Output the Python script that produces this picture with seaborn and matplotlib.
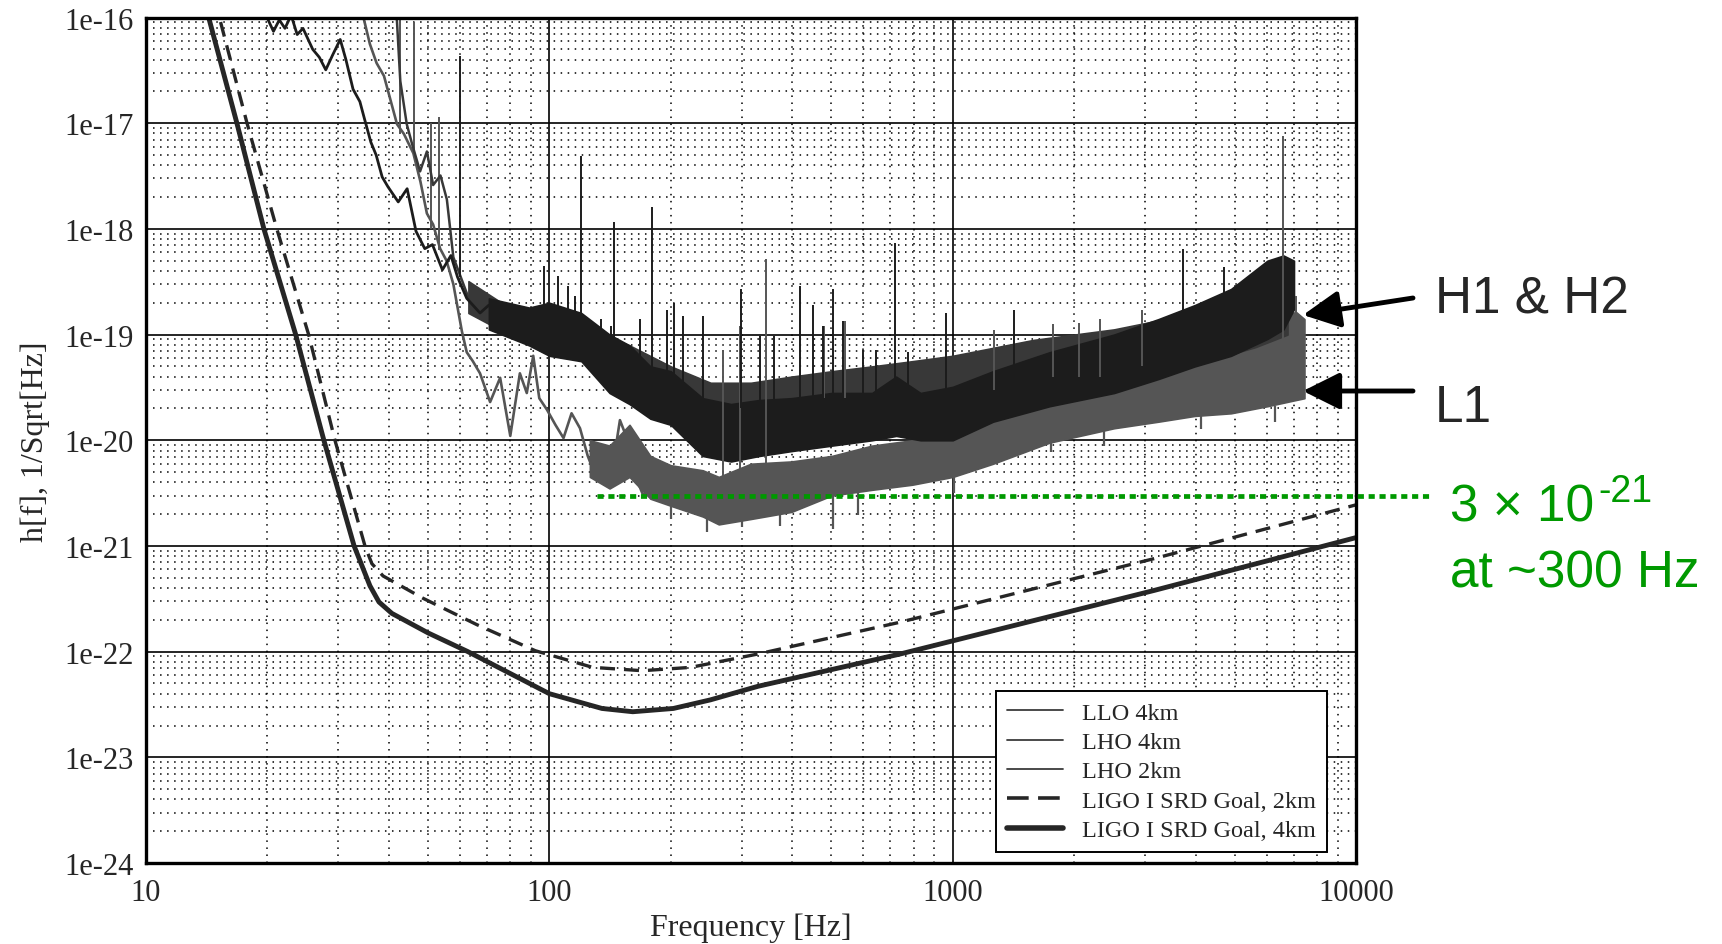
import numpy as np
import matplotlib
matplotlib.use("Agg")
import matplotlib.pyplot as plt
import seaborn as sns
from matplotlib.lines import Line2D
from matplotlib.ticker import FixedLocator, NullFormatter

# --- values (Hz, strain / sqrt(Hz)) ---

# LIGO I SRD goal curves
srd4_f = [13.5, 14.3, 16.8, 19.6, 23.5, 27.6, 32.8, 35.9, 37.8, 40.7, 50.1, 62.8,
          79.4, 100, 135, 161, 203, 251, 329, 741, 3162, 10000]
srd4_h = [2.2e-16, 1.0e-16, 1.0e-17, 1.0e-18, 1.0e-19, 1.0e-20, 1.0e-21, 4.2e-22,
          2.95e-22, 2.3e-22, 1.5e-22, 1.0e-22, 6.3e-23, 4.0e-23, 2.9e-23, 2.7e-23,
          2.9e-23, 3.5e-23, 4.7e-23, 9.5e-23, 3.8e-22, 1.2e-21]
srd2_f = [14.3, 15.2, 17.8, 21.1, 25.3, 29.4, 34.9, 36.3, 38.7, 48.6, 66.1, 92.3,
          128, 170, 224, 329, 741, 3162, 10000]
srd2_h = [2.2e-16, 1.0e-16, 1.0e-17, 1.0e-18, 1.0e-19, 1.0e-20, 1.0e-21, 6.8e-22,
          5.2e-22, 3.2e-22, 1.8e-22, 1.02e-22, 7.1e-23, 6.6e-23, 7.1e-23, 9.5e-23,
          1.9e-22, 7.6e-22, 2.45e-21]

# LHO 4km: low frequency trace, then the noise band (lower / upper edge)
lho4_f = [19.5, 20.0, 20.7, 21.4, 22.1, 22.9, 23.7, 24.5, 25.9, 26.9, 27.9, 29.0,
          30.3, 31.3, 32.6, 33.9, 34.8, 36.1, 37.2, 38.5, 39.8, 42.2, 44.4, 46.7,
          49.1, 51.3, 54.3, 57.0, 59.2, 62.4, 67.3, 70.8, 74.1, 77.6, 81.3]
lho4_h = [1.26e-16, 9.8e-17, 7.4e-17, 9.5e-17, 7.9e-17, 1.05e-16, 6.9e-17, 7.9e-17,
          5.0e-17, 4.2e-17, 3.2e-17, 4.4e-17, 6.2e-17, 4.0e-17, 2.1e-17, 1.6e-17,
          1.1e-17, 6.6e-18, 5.0e-18, 3.1e-18, 2.5e-18, 1.8e-18, 2.4e-18, 9.5e-19,
          6.5e-19, 7.1e-19, 4.1e-19, 5.6e-19, 3.5e-19, 2.2e-19, 1.6e-19, 1.9e-19,
          1.6e-19, 1.2e-19, 1.4e-19]
lho4_band_f = [70.8, 89.1, 100, 120, 141, 158, 178, 200, 240, 282, 331, 398, 501,
               631, 724, 832, 1000, 1259, 1738, 2512, 3236, 3981, 4898, 6026, 6607, 7015]
lho4_band_lo = [1.12e-19, 7.9e-20, 6.3e-20, 5.6e-20, 2.8e-20, 2.2e-20, 1.6e-20,
                1.4e-20, 7.1e-21, 6.3e-21, 7.1e-21, 7.9e-21, 8.9e-21, 1.0e-20,
                1.1e-20, 1.0e-20, 1.0e-20, 1.5e-20, 2.1e-20, 2.8e-20, 3.8e-20,
                5.0e-20, 6.3e-20, 9.1e-20, 1.12e-19, 1.74e-19]
lho4_band_hi = [2.2e-19, 1.8e-19, 2.0e-19, 1.6e-19, 1.0e-19, 7.9e-20, 5.0e-20,
                4.5e-20, 2.5e-20, 2.2e-20, 2.4e-20, 2.5e-20, 2.8e-20, 2.8e-20,
                4.0e-20, 2.8e-20, 3.2e-20, 4.5e-20, 6.8e-20, 1.0e-19, 1.4e-19,
                1.9e-19, 2.7e-19, 5.0e-19, 5.6e-19, 5.0e-19]

# LHO 2km
lho2_f = [41.7, 42.7, 44.3, 45.7, 47.8, 49.7, 51.5, 53.7, 55.7, 57.8, 60.3, 63.1]
lho2_h = [1.26e-16, 2.5e-17, 9.8e-18, 6.3e-18, 3.5e-18, 5.4e-18, 2.6e-18, 3.2e-18,
          1.9e-18, 5.4e-19, 3.5e-19, 2.2e-19]
lho2_band_f = [63, 79.4, 100, 126, 158, 200, 251, 316, 398, 501, 631, 794, 1000,
               1585, 2512, 3981, 5623, 6761]
lho2_band_lo = [1.6e-19, 1.0e-19, 7.9e-20, 5.6e-20, 3.5e-20, 2.0e-20, 1.6e-20,
                1.4e-20, 1.4e-20, 1.6e-20, 1.8e-20, 2.0e-20, 2.2e-20, 3.0e-20,
                3.8e-20, 5.2e-20, 7.6e-20, 1.0e-19]
lho2_band_hi = [3.2e-19, 1.8e-19, 1.6e-19, 1.12e-19, 7.9e-20, 5.0e-20, 3.5e-20,
                3.5e-20, 4.0e-20, 4.5e-20, 5.0e-20, 5.6e-20, 6.3e-20, 8.9e-20,
                1.12e-19, 1.6e-19, 2.5e-19, 3.5e-19]

# LLO 4km
llo_f = [33.5, 34.6, 35.9, 37.3, 38.9, 40.3, 41.9, 43.6, 46.0, 47.9, 49.7, 51.5,
         53.6, 55.6, 57.8, 60.7, 62.4, 64.6, 67.3, 71.3, 75.5, 80.0, 84.5, 87.9,
         91.2, 94.4, 98.6, 103.5, 108.4, 113.5, 119.1, 124.5, 128.5, 134.9, 141.3,
         149.6, 154.9, 158.5, 171.0, 184.5]
llo_h = [1.26e-16, 1.0e-16, 5.6e-17, 3.7e-17, 2.8e-17, 1.7e-17, 9.8e-18, 7.9e-18,
         5.2e-18, 2.8e-18, 1.4e-18, 1.1e-18, 6.5e-19, 5.0e-19, 3.0e-19, 1.07e-19,
         6.8e-20, 5.6e-20, 4.3e-20, 2.3e-20, 3.9e-20, 1.1e-20, 4.3e-20, 2.8e-20,
         6.3e-20, 2.5e-20, 1.95e-20, 1.4e-20, 1.05e-20, 1.8e-20, 1.3e-20, 7.1e-21,
         5.2e-21, 6.3e-21, 3.8e-21, 1.55e-20, 1.1e-20, 6.0e-21, 3.0e-21, 4.5e-21]
llo_band_f = [126, 141, 158, 178, 200, 240, 263, 316, 398, 501, 631, 794, 1000,
              1259, 1738, 2512, 3236, 3981, 4898, 6026, 7079, 7447]
llo_band_lo = [4.5e-21, 3.5e-21, 4.5e-21, 2.8e-21, 2.4e-21, 1.9e-21, 1.6e-21,
               1.8e-21, 2.1e-21, 3.0e-21, 3.4e-21, 3.8e-21, 4.5e-21, 6.0e-21,
               9.5e-21, 1.3e-20, 1.5e-20, 1.7e-20, 1.8e-20, 2.1e-20, 2.4e-20, 2.5e-20]
llo_band_hi = [1.0e-20, 8.9e-21, 1.4e-20, 7.1e-21, 5.8e-21, 5.2e-21, 4.5e-21,
               6.0e-21, 6.3e-21, 7.1e-21, 8.9e-21, 1.0e-20, 1.2e-20, 1.6e-20,
               3.2e-20, 4.5e-20, 5.2e-20, 7.1e-20, 8.9e-20, 1.1e-19, 1.65e-19, 1.4e-19]

# line spikes: frequency, foot, tip
dark_spike_f = [60.0, 120, 144.5, 179.5, 134, 168, 204, 240, 299, 418, 451, 506,
                535, 721, 964, 1422, 3724, 4710, 97, 105, 111, 116, 127, 142, 196,
                215, 333, 360, 477, 600, 647, 774]
dark_spike_lo = [3.5e-19, 1.0e-19, 5.0e-20, 4.0e-20, 6.3e-20, 4.0e-20, 2.5e-20,
                 2.0e-20, 2.0e-20, 2.0e-20, 2.0e-20, 2.0e-20, 2.0e-20, 2.5e-20,
                 2.5e-20, 3.0e-20, 6.0e-20, 6.0e-20, 1.2e-19, 1.1e-19, 1.0e-19,
                 1.0e-19, 7.0e-20, 5.0e-20, 3.0e-20, 2.5e-20, 1.6e-20, 1.6e-20,
                 1.6e-20, 1.8e-20, 1.8e-20, 1.8e-20]
dark_spike_hi = [4.3e-17, 4.9e-18, 1.15e-18, 1.6e-18, 1.4e-19, 1.4e-19, 2.0e-19,
                 1.5e-19, 2.7e-19, 2.9e-19, 1.9e-19, 2.7e-19, 1.35e-19, 7.4e-19,
                 1.6e-19, 1.7e-19, 6.5e-19, 4.4e-19, 4.5e-19, 3.6e-19, 2.9e-19,
                 2.3e-19, 1.0e-19, 1.2e-19, 1.7e-19, 1.5e-19, 9.8e-20, 9.8e-20,
                 1.2e-19, 7.1e-20, 7.2e-20, 6.8e-20]
gray_spike_f = [42.7, 46.2, 51.0, 53.3, 270, 297, 343.6, 480, 541, 1265, 1770, 2056,
                2323, 2944, 6607, 7080]
gray_spike_lo = [7.9e-18, 5.0e-18, 1.0e-18, 6.3e-19, 4.0e-21, 5.0e-21, 5.0e-21,
                 2.5e-20, 2.5e-20, 3.0e-20, 4.0e-20, 4.0e-20, 4.0e-20, 5.0e-20,
                 5.0e-20, 1.0e-19]
gray_spike_hi = [1.26e-16, 9.1e-17, 1.0e-17, 1.15e-17, 7.2e-20, 1.2e-19, 5.2e-19,
                 1.2e-19, 1.35e-19, 1.1e-19, 1.26e-19, 1.3e-19, 1.4e-19, 1.7e-19,
                 7.6e-18, 2.3e-19]
# dips below the LLO band edge
llo_dip_f = [200, 246, 300, 373, 506, 582, 1009, 1754, 2377, 4130, 6310]
llo_dip_top = [2.6e-21, 2.0e-21, 2.0e-21, 2.1e-21, 3.0e-21, 3.3e-21, 4.6e-21,
               9.8e-21, 1.3e-20, 1.7e-20, 2.1e-20]
llo_dip_bot = [1.8e-21, 1.35e-21, 1.5e-21, 1.55e-21, 1.45e-21, 1.95e-21, 3.2e-21,
               7.8e-21, 8.9e-21, 1.29e-20, 1.48e-20]

goal_level = 3e-21
goal_f = [131, 15500]

x_ticks = [10, 100, 1000, 10000]
x_ticklabels = ["10", "100", "1000", "10000"]
y_ticks = [1e-24, 1e-23, 1e-22, 1e-21, 1e-20, 1e-19, 1e-18, 1e-17, 1e-16]
y_ticklabels = ["1e-24", "1e-23", "1e-22", "1e-21", "1e-20", "1e-19", "1e-18",
                "1e-17", "1e-16"]

legend_labels = ["LLO 4km", "LHO 4km", "LHO 2km",
                 "LIGO I SRD Goal, 2km", "LIGO I SRD Goal, 4km"]

C_LLO = "#555555"
C_LHO2 = "#383838"
C_LHO4 = "#1c1c1c"
C_SRD = "#262626"
GREEN = "#009900"

sns.set_style("white")
plt.rcParams["font.family"] = ["Liberation Serif", "DejaVu Serif"]

fig = plt.figure(figsize=(17.22, 9.45), dpi=100)
ax = fig.add_axes([0.0848, 0.0857, 0.7027, 0.8947])
ax.set(xscale="log", yscale="log")

# LLO (gray, drawn first)
ax.fill_between(llo_band_f, llo_band_lo, llo_band_hi, color=C_LLO, lw=1.2)
sns.lineplot(x=llo_f, y=llo_h, color=C_LLO, lw=1.9, estimator=None, ax=ax)
ax.vlines(gray_spike_f, gray_spike_lo, gray_spike_hi, colors=C_LLO, lw=1.4)
ax.vlines(llo_dip_f, llo_dip_bot, llo_dip_top, colors=C_LLO, lw=1.6)

# LHO 2km
ax.fill_between(lho2_band_f, lho2_band_lo, lho2_band_hi, color=C_LHO2, lw=1.2)
sns.lineplot(x=lho2_f, y=lho2_h, color=C_LHO2, lw=1.8, estimator=None, ax=ax)

# LHO 4km
ax.fill_between(lho4_band_f, lho4_band_lo, lho4_band_hi, color=C_LHO4, lw=1.2)
sns.lineplot(x=lho4_f, y=lho4_h, color=C_LHO4, lw=2.0, estimator=None, ax=ax)
ax.vlines(dark_spike_f, dark_spike_lo, dark_spike_hi, colors=C_LHO4, lw=1.4)

# design goals
sns.lineplot(x=srd2_f, y=srd2_h, color=C_SRD, lw=2.4, estimator=None, ax=ax,
             linestyle=(0, (4.5, 2.7)))
sns.lineplot(x=srd4_f, y=srd4_h, color=C_SRD, lw=3.5, estimator=None, ax=ax)

# 3e-21 goal marker, running out to the note on the right
ax.plot(goal_f, [goal_level, goal_level], color=GREEN, lw=3.4,
        ls=(0, (1.3, 1.0)), clip_on=False, zorder=5)

ax.set_xlim(10, 1e4)
ax.set_ylim(1e-24, 1e-16)
ax.set_xticks(x_ticks, x_ticklabels)
ax.set_yticks(y_ticks, y_ticklabels)
ax.xaxis.set_minor_locator(FixedLocator([m * t for t in x_ticks[:-1] for m in range(2, 10)]))
ax.yaxis.set_minor_locator(FixedLocator([m * t for t in y_ticks[:-1] for m in range(2, 10)]))
ax.xaxis.set_minor_formatter(NullFormatter())
ax.yaxis.set_minor_formatter(NullFormatter())
ax.tick_params(which="both", length=0, labelsize=22)
ax.tick_params(axis="x", pad=11)
ax.tick_params(axis="y", pad=9)

ax.set_axisbelow(True)
ax.grid(True, which="major", color="black", lw=1.2, ls="-")
ax.grid(True, which="minor", color="black", lw=1.1, ls=(0, (1, 3.6)))
for s in ax.spines.values():
    s.set_linewidth(2.4)
    s.set_color("black")

ax.set_xlabel("Frequency [Hz]", fontsize=23, labelpad=4)
ax.set_ylabel("h[f], 1/Sqrt[Hz]", fontsize=23, labelpad=10)

handles = [
    Line2D([], [], color="#3c3c3c", lw=1.3),
    Line2D([], [], color="#3c3c3c", lw=1.3),
    Line2D([], [], color="#3c3c3c", lw=1.3),
    Line2D([], [], color=C_SRD, lw=2.6, ls=(0, (6, 2.6))),
    Line2D([], [], color=C_SRD, lw=4.0),
]
leg = ax.legend(handles, legend_labels, loc="lower right", bbox_to_anchor=(0.976, 0.013),
                borderaxespad=0, fontsize=17.5, frameon=True, fancybox=False,
                framealpha=1, edgecolor="black", handlelength=2.3,
                labelspacing=0.3, borderpad=0.45)
leg.get_frame().set_linewidth(1.4)

# notes to the right of the axes
sans = ["Liberation Sans", "DejaVu Sans"]
fig.text(1435 / 1722, 1 - 313 / 945, "H1 & H2", fontsize=37, family=sans, va="baseline")
fig.text(1435 / 1722, 1 - 422 / 945, "L1", fontsize=37, family=sans, va="baseline")
fig.text(1450 / 1722, 1 - 522 / 945, "3 \u00d7 10", fontsize=37, family=sans,
         va="baseline", color=GREEN)
fig.text(1598 / 1722, 1 - 502 / 945, "-21", fontsize=27, family=sans,
         va="baseline", color=GREEN)
fig.text(1450 / 1722, 1 - 588 / 945, "at ~300 Hz", fontsize=37, family=sans,
         va="baseline", color=GREEN)

arrow = dict(arrowstyle="-|>,head_length=1.5,head_width=0.75", color="black",
             lw=3.5, shrinkA=0, shrinkB=0, mutation_scale=15)
ax.annotate("", xy=(1303, 629), xycoords="figure pixels",
            xytext=(1413, 646), textcoords="figure pixels", arrowprops=arrow)
ax.annotate("", xy=(1303, 553), xycoords="figure pixels",
            xytext=(1413, 553), textcoords="figure pixels", arrowprops=arrow)

fig.savefig("out.png", dpi=100)
